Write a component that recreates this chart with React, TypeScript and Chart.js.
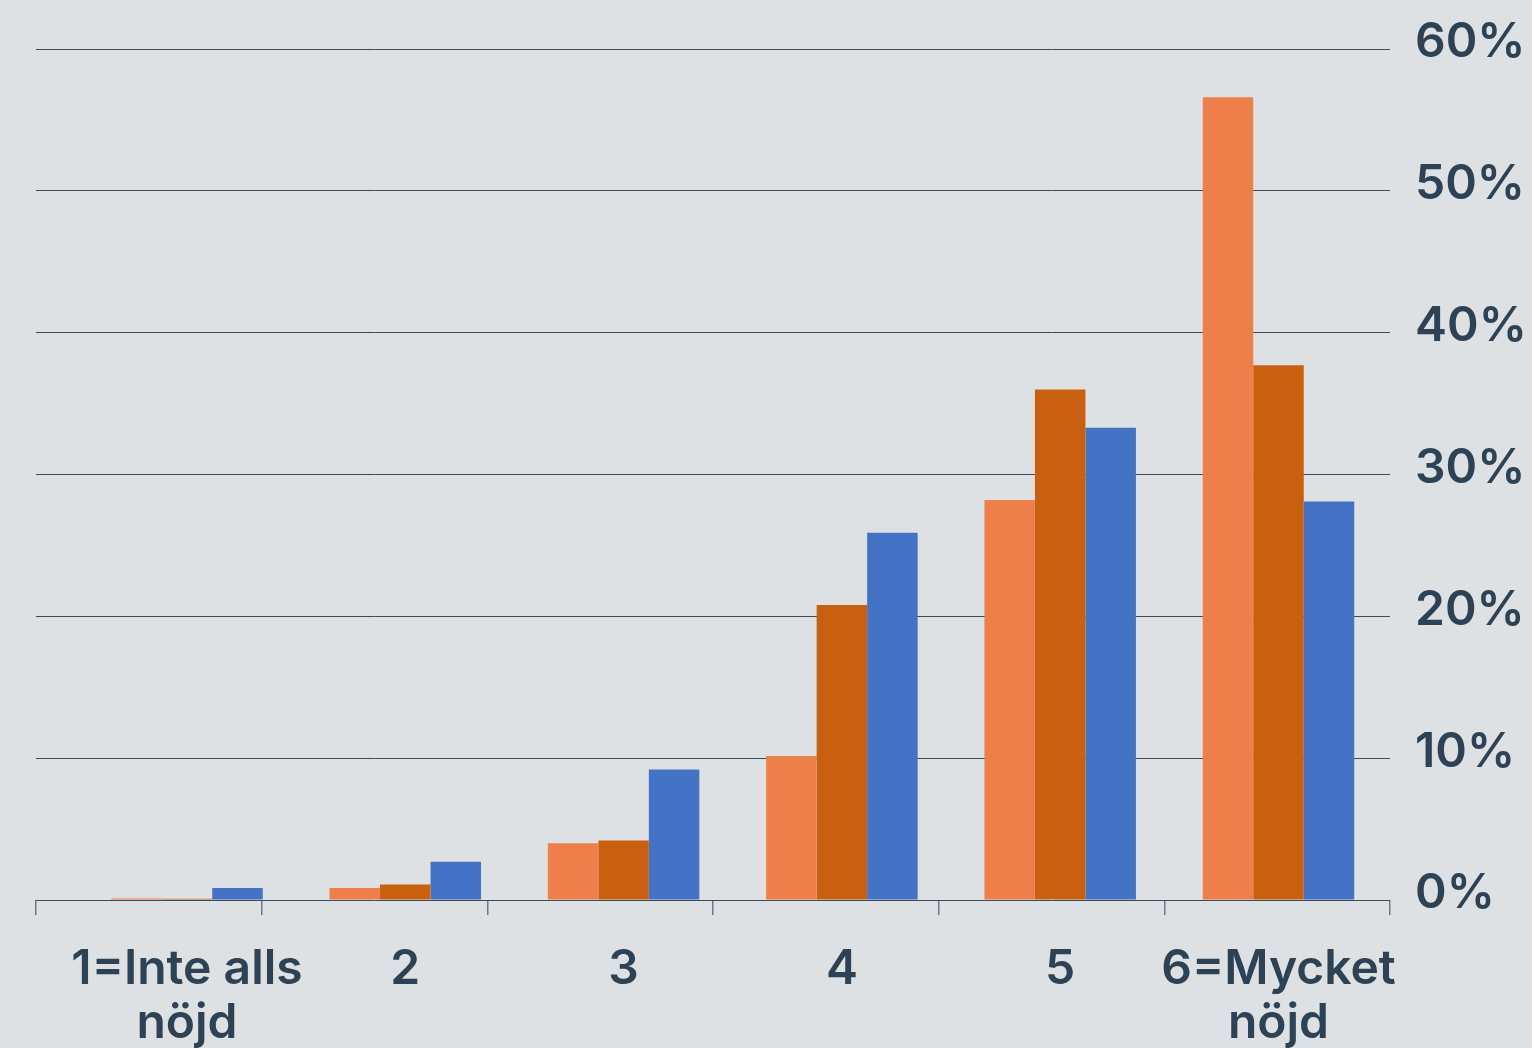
import React, { useEffect, useRef } from "react";
import { Chart, registerables } from "chart.js";

Chart.register(...registerables);

const categories: string[][] = [
  ["1=Inte alls", "nöjd"],
  ["2"],
  ["3"],
  ["4"],
  ["5"],
  ["6=Mycket", "nöjd"],
];
const categoryPositions = [1, 2, 3, 4, 5, 6];
const seriesA = [0.1, 0.85, 4.0, 10.15, 28.2, 56.6];
const seriesB = [0.08, 1.1, 4.2, 20.8, 36.0, 37.7];
const seriesC = [0.85, 2.7, 9.2, 25.9, 33.3, 28.1];
const yTicks = [0, 10, 20, 30, 40, 50, 60];

const TEXT = "#2d4254";
const FONT = "Inter, 'Noto Sans', 'DejaVu Sans', sans-serif";

export default function App() {
  const ref = useRef<HTMLCanvasElement | null>(null);

  useEffect(() => {
    if (!ref.current) return;
    const mk = (vals: number[]) => categoryPositions.map((x, i) => ({ x, y: vals[i] }));
    const chart = new Chart(ref.current, {
      type: "bar",
      data: {
        datasets: [
          { label: "A", data: mk(seriesA), backgroundColor: "#ee7f4b", xAxisID: "x", yAxisID: "y" },
          { label: "B", data: mk(seriesB), backgroundColor: "#c96010", xAxisID: "x", yAxisID: "y" },
          { label: "C", data: mk(seriesC), backgroundColor: "#4472c4", xAxisID: "x", yAxisID: "y" },
        ],
      },
      options: {
        animation: false,
        responsive: false,
        maintainAspectRatio: false,
        layout: { padding: { left: 36, top: 49, right: 0, bottom: 0 } },
        datasets: {
          bar: { categoryPercentage: 0.694, barPercentage: 1.0 },
        },
        plugins: { legend: { display: false }, tooltip: { enabled: false } },
        scales: {
          x: {
            type: "linear",
            position: "bottom",
            weight: 1,
            offset: false,
            min: 0.3083,
            max: 6.5108,
            grid: { display: false, offset: false },
            border: { display: false },
            ticks: {
              stepSize: 1,
              includeBounds: false,
              autoSkip: false,
              maxRotation: 0,
              minRotation: 0,
              padding: 35,
              color: TEXT,
              font: { family: FONT, size: 48, weight: "600", lineHeight: 1.12 },
              callback: (v: any) => {
                const i = Math.round(Number(v)) - 1;
                return categories[i] ?? "";
              },
            },
            afterFit: (s: any) => {
              s.height = 148;
              s.paddingLeft = 0;
              s.paddingRight = 0;
            },
          },
          x2: {
            type: "category",
            labels: categories.map((c) => c.join(" ")),
            position: "bottom",
            weight: 0,
            offset: true,
            grid: {
              display: true,
              offset: true,
              drawOnChartArea: false,
              drawTicks: true,
              tickLength: 15,
              color: "#6b7a87",
              lineWidth: 1.5,
            },
            border: { display: false },
            ticks: { display: false },
            afterFit: (s: any) => {
              s.height = 0;
              s.paddingLeft = 0;
              s.paddingRight = 0;
            },
          },
          y: {
            type: "linear",
            position: "right",
            min: 0,
            max: 60,
            afterBuildTicks: (s: any) => {
              s.ticks = yTicks.map((v) => ({ value: v }));
            },
            grid: { color: "#3a4c5c", lineWidth: 1, drawTicks: false },
            border: { display: false },
            ticks: {
              padding: 25,
              labelOffset: -6,
              color: TEXT,
              font: { family: FONT, size: 48, weight: "600" },
              callback: (v: any) => `${v}%`,
            },
            afterFit: (s: any) => {
              s.width = 142;
              s.paddingTop = 0;
              s.paddingBottom = 0;
            },
          },
        },
      },
    });
    return () => chart.destroy();
  }, []);

  return (
    <div
      style={{
        position: "fixed",
        left: 0,
        top: 0,
        width: 1532,
        height: 1048,
        background: "#dee1e4",
        overflow: "hidden",
      }}
    >
      <canvas ref={ref} width={1532} height={1048} style={{ display: "block" }} />
    </div>
  );
}
